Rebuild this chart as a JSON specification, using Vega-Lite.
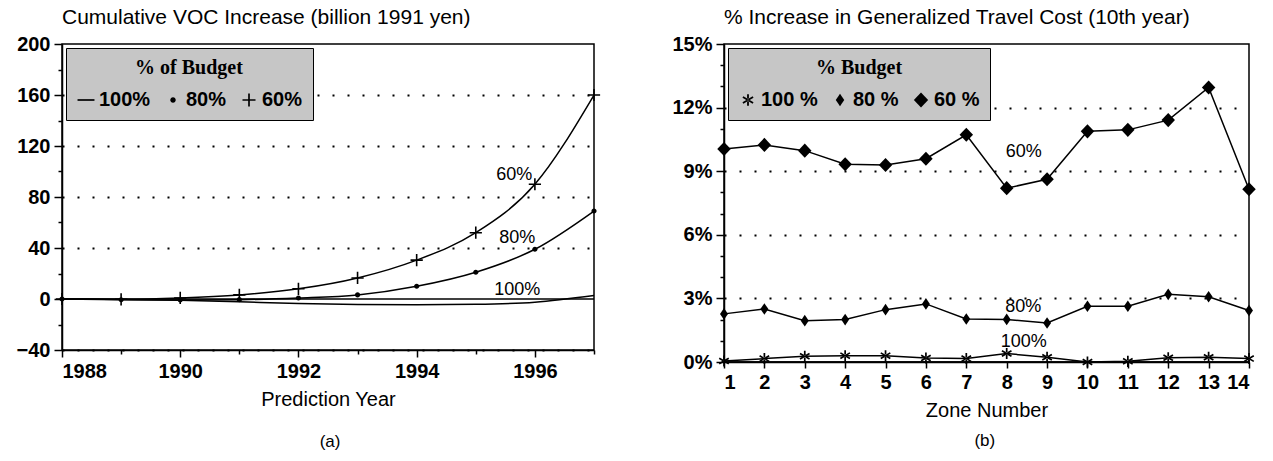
{
  "$schema": "https://vega.github.io/schema/vega-lite/v6.json",
  "background": "white",
  "padding": {"left": 15, "top": 6, "right": 4, "bottom": 2},
  "spacing": 70,
  "resolve": {"scale": {"shape": "independent"}, "legend": {"shape": "independent"}},
  "config": {
    "view": {"stroke": "black", "strokeWidth": 1.5},
    "font": "Liberation Sans",
    "axis": {
      "domainColor": "black", "domainWidth": 1.5,
      "tickColor": "black", "tickWidth": 1.5,
      "labelFont": "Liberation Sans", "labelFontWeight": "bold", "labelFontSize": 20, "labelColor": "black", "labelPadding": 4,
      "labelOverlap": false,
      "titleFont": "Liberation Sans", "titleFontSize": 20, "titleFontWeight": "normal", "titleColor": "black", "titlePadding": 8,
      "gridColor": "black", "gridDash": [2, 13], "gridWidth": 2
    },
    "legend": {
      "orient": "top-left", "offset": 4, "direction": "horizontal",
      "fillColor": "#c6c6c6", "strokeColor": "black", "padding": 10,
      "titleFont": "Liberation Serif", "titleFontWeight": "bold", "titleFontSize": 20, "titleColor": "black",
      "titleAnchor": "middle", "titlePadding": 12,
      "labelFont": "Liberation Sans", "labelFontWeight": "bold", "labelFontSize": 20, "labelColor": "black", "labelOffset": 3,
      "symbolFillColor": "black", "symbolSize": 170, "symbolStrokeWidth": 0,
      "columnPadding": 12
    },
    "title": {"font": "Liberation Sans", "fontSize": 21, "fontWeight": "normal", "color": "black"}
  },
  "datasets": {
    "voc": [
      {"year": 1988, "series": "100%", "value": 0},
      {"year": 1989, "series": "100%", "value": -0.3},
      {"year": 1990, "series": "100%", "value": -1},
      {"year": 1991, "series": "100%", "value": -2.2},
      {"year": 1992, "series": "100%", "value": -3.5},
      {"year": 1993, "series": "100%", "value": -4.3},
      {"year": 1994, "series": "100%", "value": -4.6},
      {"year": 1995, "series": "100%", "value": -4.2},
      {"year": 1996, "series": "100%", "value": -2.5},
      {"year": 1997, "series": "100%", "value": 2.7},
      {"year": 1988, "series": "80%", "value": 0},
      {"year": 1989, "series": "80%", "value": -0.6},
      {"year": 1990, "series": "80%", "value": -0.8},
      {"year": 1991, "series": "80%", "value": -0.5},
      {"year": 1992, "series": "80%", "value": 0.8},
      {"year": 1993, "series": "80%", "value": 3.2},
      {"year": 1994, "series": "80%", "value": 10},
      {"year": 1995, "series": "80%", "value": 21},
      {"year": 1996, "series": "80%", "value": 39},
      {"year": 1997, "series": "80%", "value": 69},
      {"year": 1988, "series": "60%", "value": 0},
      {"year": 1989, "series": "60%", "value": -0.2},
      {"year": 1990, "series": "60%", "value": 0.8},
      {"year": 1991, "series": "60%", "value": 3.2},
      {"year": 1992, "series": "60%", "value": 8},
      {"year": 1993, "series": "60%", "value": 16.5},
      {"year": 1994, "series": "60%", "value": 30.5},
      {"year": 1995, "series": "60%", "value": 52},
      {"year": 1996, "series": "60%", "value": 90},
      {"year": 1997, "series": "60%", "value": 160}
    ],
    "vocLabels": [
      {"year": 1995.65, "value": 97, "label": "60%"},
      {"year": 1995.7, "value": 47.5, "label": "80%"},
      {"year": 1995.7, "value": 7.2, "label": "100%"}
    ],
    "cost": [
      {"zone": 1, "series": "100 %", "value": 0.05},
      {"zone": 2, "series": "100 %", "value": 0.16},
      {"zone": 3, "series": "100 %", "value": 0.27},
      {"zone": 4, "series": "100 %", "value": 0.3},
      {"zone": 5, "series": "100 %", "value": 0.3},
      {"zone": 6, "series": "100 %", "value": 0.19},
      {"zone": 7, "series": "100 %", "value": 0.16},
      {"zone": 8, "series": "100 %", "value": 0.4},
      {"zone": 9, "series": "100 %", "value": 0.22},
      {"zone": 10, "series": "100 %", "value": 0.0},
      {"zone": 11, "series": "100 %", "value": 0.03},
      {"zone": 12, "series": "100 %", "value": 0.2},
      {"zone": 13, "series": "100 %", "value": 0.22},
      {"zone": 14, "series": "100 %", "value": 0.16},
      {"zone": 1, "series": "80 %", "value": 2.27},
      {"zone": 2, "series": "80 %", "value": 2.5},
      {"zone": 3, "series": "80 %", "value": 1.95},
      {"zone": 4, "series": "80 %", "value": 2.0},
      {"zone": 5, "series": "80 %", "value": 2.47},
      {"zone": 6, "series": "80 %", "value": 2.74},
      {"zone": 7, "series": "80 %", "value": 2.03},
      {"zone": 8, "series": "80 %", "value": 2.01},
      {"zone": 9, "series": "80 %", "value": 1.84},
      {"zone": 10, "series": "80 %", "value": 2.63},
      {"zone": 11, "series": "80 %", "value": 2.63},
      {"zone": 12, "series": "80 %", "value": 3.19},
      {"zone": 13, "series": "80 %", "value": 3.08},
      {"zone": 14, "series": "80 %", "value": 2.43},
      {"zone": 1, "series": "60 %", "value": 10.05},
      {"zone": 2, "series": "60 %", "value": 10.24},
      {"zone": 3, "series": "60 %", "value": 9.97},
      {"zone": 4, "series": "60 %", "value": 9.33},
      {"zone": 5, "series": "60 %", "value": 9.29},
      {"zone": 6, "series": "60 %", "value": 9.59},
      {"zone": 7, "series": "60 %", "value": 10.72},
      {"zone": 8, "series": "60 %", "value": 8.2},
      {"zone": 9, "series": "60 %", "value": 8.62},
      {"zone": 10, "series": "60 %", "value": 10.88},
      {"zone": 11, "series": "60 %", "value": 10.95},
      {"zone": 12, "series": "60 %", "value": 11.41},
      {"zone": 13, "series": "60 %", "value": 12.95},
      {"zone": 14, "series": "60 %", "value": 8.15}
    ],
    "costLabels": [
      {"zone": 8.42, "value": 9.9, "label": "60%"},
      {"zone": 8.41, "value": 2.59, "label": "80%"},
      {"zone": 8.42, "value": 0.93, "label": "100%"}
    ],
    "zero": [{"value": 0}]
  },
  "hconcat": [
    {
      "title": {"text": "(a)", "orient": "bottom", "anchor": "middle", "fontSize": 17, "offset": 24, "dx": 22},
      "vconcat": [
        {
          "width": 532,
          "height": 306,
          "title": {"text": "Cumulative VOC Increase (billion 1991 yen)", "anchor": "start", "frame": "group", "dx": 0, "offset": 6},
          "layer": [
            {
              "data": {"name": "voc"},
              "mark": {"type": "line", "interpolate": "monotone", "color": "black", "strokeWidth": 1.5},
              "encoding": {
                "x": {"field": "year", "type": "quantitative",
                  "scale": {"domain": [1988, 1997], "nice": false, "zero": false},
                  "axis": {"title": "Prediction Year", "tickCount": 9,
                    "format": "d", "labelExpr": "datum.value % 2 == 0 ? datum.label : ''", "grid": false, "labelOverlap": false,
                    "tickSize": {"condition": {"test": "datum.value % 2 == 0", "value": 7}, "value": 4}}},
                "y": {"field": "value", "type": "quantitative",
                  "scale": {"domain": [-40, 200], "nice": false},
                  "axis": {"title": null, "tickCount": 12,
                    "labelExpr": "datum.value % 40 == 0 ? datum.label : ''", "grid": true, "labelOverlap": false,
                    "gridOpacity": {"condition": {"test": "datum.value % 40 != 0 || datum.value == 0 || datum.value == 200", "value": 0}, "value": 1},
                    "tickSize": {"condition": {"test": "datum.value % 40 == 0", "value": 8}, "value": 4}}},
                "detail": {"field": "series"}
              }
            },
            {
              "data": {"name": "zero"},
              "mark": {"type": "rule", "color": "black", "strokeWidth": 1.5},
              "encoding": {"y": {"field": "value", "type": "quantitative"}}
            },
            {
              "data": {"name": "voc"},
              "transform": [{"filter": "datum.series != '100%'"}],
              "mark": {"type": "point", "filled": true, "color": "black", "opacity": 1, "size": 150},
              "encoding": {
                "x": {"field": "year", "type": "quantitative"},
                "y": {"field": "value", "type": "quantitative"},
                "shape": {"field": "series", "type": "nominal",
                  "scale": {"domain": ["100%", "80%", "60%"],
                    "range": [
                      "M-1.3,-0.13L1.3,-0.13L1.3,0.13L-1.3,0.13Z",
                      "M0.42,0A0.42,0.42 0 1,1 -0.42,0A0.42,0.42 0 1,1 0.42,0Z",
                      "M-1,-0.13L1,-0.13L1,0.13L-1,0.13ZM-0.13,-1L0.13,-1L0.13,1L-0.13,1Z"]},
                  "legend": {"title": "% of Budget"}}
              }
            },
            {
              "data": {"name": "vocLabels"},
              "mark": {"type": "text", "fontSize": 18, "color": "black", "align": "center", "baseline": "middle"},
              "encoding": {
                "x": {"field": "year", "type": "quantitative"},
                "y": {"field": "value", "type": "quantitative"},
                "text": {"field": "label"}
              }
            }
          ]
        }
      ]
    },
    {
      "title": {"text": "(b)", "orient": "bottom", "anchor": "middle", "fontSize": 17, "offset": 12, "dx": 21},
      "vconcat": [
        {
          "width": 525,
          "height": 318,
          "title": {"text": "% Increase in Generalized Travel Cost (10th year)", "anchor": "start", "frame": "group", "dx": 0, "offset": 6},
          "layer": [
            {
              "data": {"name": "cost"},
              "mark": {"type": "line", "color": "black", "strokeWidth": 1.5},
              "encoding": {
                "x": {"field": "zone", "type": "quantitative",
                  "scale": {"domain": [1, 14], "nice": false, "zero": false},
                  "axis": {"title": "Zone Number", "tickCount": 13,
                    "format": "d", "grid": false, "tickSize": 6, "labelOverlap": false}},
                "y": {"field": "value", "type": "quantitative",
                  "scale": {"domain": [0, 15], "nice": false},
                  "axis": {"title": null, "tickCount": 15,
                    "labelExpr": "abs(datum.value - 3 * round(datum.value / 3)) < 0.01 ? round(datum.value) + '%' : ''",
                    "grid": true, "labelOverlap": false,
                    "gridOpacity": {"condition": {"test": "abs(datum.value - 3 * round(datum.value / 3)) > 0.01 || datum.value < 0.5 || datum.value > 14.5", "value": 0}, "value": 1},
                    "tickSize": {"condition": {"test": "abs(datum.value - 3 * round(datum.value / 3)) < 0.01", "value": 8}, "value": 4}}},
                "detail": {"field": "series"}
              }
            },
            {
              "data": {"name": "zero"},
              "mark": {"type": "rule", "color": "black", "strokeWidth": 1.5},
              "encoding": {"y": {"field": "value", "type": "quantitative"}}
            },
            {
              "data": {"name": "cost"},
              "mark": {"type": "point", "filled": true, "color": "black", "opacity": 1, "size": 150},
              "encoding": {
                "x": {"field": "zone", "type": "quantitative"},
                "y": {"field": "value", "type": "quantitative"},
                "shape": {"field": "series", "type": "nominal",
                  "scale": {"domain": ["100 %", "80 %", "60 %"],
                    "range": [
                      "M-0.14,-0.9L0.14,-0.9L0.14,0.9L-0.14,0.9ZM-0.85,-0.33L0.71,0.57L0.85,0.33L-0.71,-0.57ZM-0.71,0.57L0.85,-0.33L0.71,-0.57L-0.85,0.33Z",
                      "M0,-0.95L0.65,0L0,0.95L-0.65,0Z",
                      "M0,-1.15L1.1,0L0,1.15L-1.1,0Z"]},
                  "legend": {"title": "% Budget"}}
              }
            },
            {
              "data": {"name": "costLabels"},
              "mark": {"type": "text", "fontSize": 18, "color": "black", "align": "center", "baseline": "middle"},
              "encoding": {
                "x": {"field": "zone", "type": "quantitative"},
                "y": {"field": "value", "type": "quantitative"},
                "text": {"field": "label"}
              }
            }
          ]
        }
      ]
    }
  ]
}
